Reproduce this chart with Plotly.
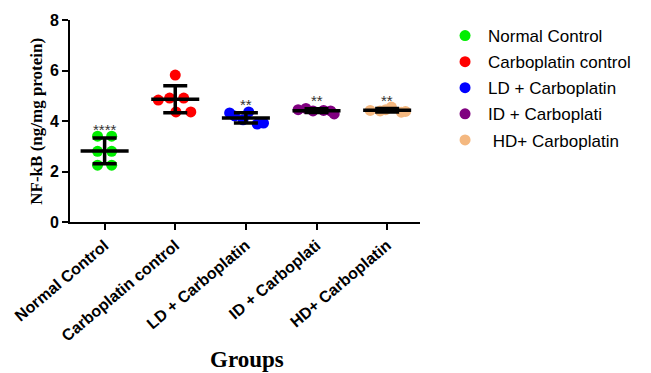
import numpy as np
import plotly.graph_objects as go

# Groups and NF-kB measurements (ng/mg protein), six animals per group
groups = ["Normal Control", "Carboplatin control", "LD + Carboplatin",
          "ID + Carboplati", "HD+ Carboplatin"]
legend_names = ["Normal Control", "Carboplatin control", "LD + Carboplatin",
                "ID + Carboplati", " HD+ Carboplatin"]

normal_control = [3.40, 3.40, 2.80, 2.80, 2.25, 2.25]
carboplatin_control = [5.82, 4.83, 4.91, 4.91, 4.36, 4.36]
ld_carboplatin = [4.32, 4.20, 4.36, 4.05, 3.88, 3.92]
id_carboplatin = [4.45, 4.50, 4.40, 4.42, 4.40, 4.28]
hd_carboplatin = [4.42, 4.40, 4.55, 4.35, 4.38, 4.45]

significance = ["****", "", "**", "**", "**"]

# Horizontal scatter spread of points within each group column
spread = [
    [-0.10, 0.10, -0.10, 0.10, -0.10, 0.10],
    [0.00, -0.24, -0.08, 0.12, 0.01, 0.22],
    [-0.23, -0.16, 0.04, -0.04, 0.16, 0.25],
    [-0.26, -0.15, -0.05, 0.10, 0.20, 0.25],
    [-0.24, -0.10, 0.06, 0.20, 0.26, -0.02],
]

colors = ["#00EE00", "#FF0000", "#0000FF", "#800080", "#F4B880"]
series = [normal_control, carboplatin_control, ld_carboplatin,
          id_carboplatin, hd_carboplatin]

fig = go.Figure()

# Individual data points
for i, vals in enumerate(series):
    fig.add_trace(go.Scatter(
        x=[i + d for d in spread[i]], y=vals, mode="markers",
        name=legend_names[i], legendgroup=f"g{i}",
        marker=dict(size=11, color=colors[i], line=dict(width=0)),
        hoverinfo="skip",
    ))

# Mean line and SD error bars on top of the points
for i, vals in enumerate(series):
    m = float(np.mean(vals))
    s = float(np.std(vals, ddof=1))
    fig.add_trace(go.Scatter(
        x=[i - 0.34, i + 0.34], y=[m, m], mode="lines",
        line=dict(color="black", width=3.5), showlegend=False, hoverinfo="skip",
    ))
    fig.add_trace(go.Scatter(
        x=[i], y=[m], mode="markers", marker=dict(size=1, color="black"),
        error_y=dict(type="data", array=[s], color="black", thickness=3.5, width=12),
        showlegend=False, hoverinfo="skip",
    ))
    if significance[i]:
        fig.add_annotation(
            x=i, y=m + s, text=significance[i], showarrow=False,
            yanchor="bottom", yshift=-2,
            font=dict(family="Liberation Sans, Arial", size=15, color="#333333"),
        )

fig.update_xaxes(
    range=[-0.49, 4.465], tickvals=list(range(len(groups))), ticktext=groups,
    tickangle=-40, tickfont=dict(family="Liberation Sans, Arial", size=16,
                                 color="black", weight="bold"),
    showline=True, linecolor="black", linewidth=2,
    ticks="outside", ticklen=6, tickwidth=2, tickcolor="black",
    showgrid=False, zeroline=False,
)
fig.update_yaxes(
    range=[0, 8], dtick=2,
    tickfont=dict(family="Liberation Sans, Arial", size=16,
                  color="black", weight="bold"),
    showline=True, linecolor="black", linewidth=2,
    ticks="outside", ticklen=6, tickwidth=2, tickcolor="black",
    showgrid=False, zeroline=False,
)

# Axis titles
fig.add_annotation(
    x=-0.098, y=0.5, xref="paper", yref="paper", text="<b>NF-kB (ng/mg protein)</b>",
    textangle=-90, showarrow=False, xanchor="center", yanchor="middle",
    font=dict(family="Liberation Serif, Times New Roman", size=17, color="black"),
)
fig.add_annotation(
    x=0.505, y=-0.683, xref="paper", yref="paper", text="<b>Groups</b>",
    showarrow=False, xanchor="center", yanchor="middle",
    font=dict(family="Liberation Serif, Times New Roman", size=23, color="black"),
)

fig.update_layout(
    width=651, height=373,
    margin=dict(l=67, r=231, t=20, b=151),
    paper_bgcolor="white", plot_bgcolor="white",
    showlegend=True,
    legend=dict(
        x=1.063, y=1.01, xanchor="left", yanchor="top",
        font=dict(family="Liberation Sans, Arial", size=17, color="black"),
        tracegroupgap=1, itemwidth=36, bgcolor="rgba(0,0,0,0)",
    ),
)

fig.write_html("out.html")
